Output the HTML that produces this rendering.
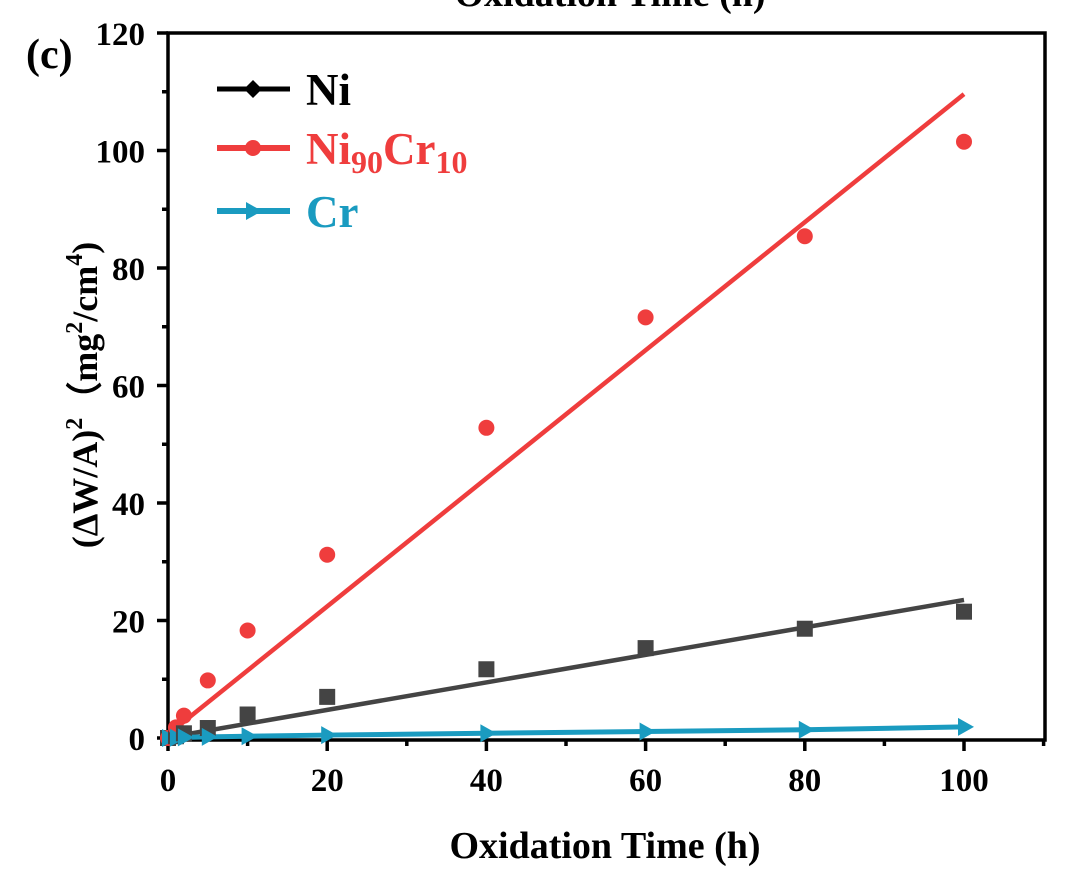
<!DOCTYPE html>
<html><head><meta charset="utf-8"><style>
body{margin:0;background:#fff}
svg{display:block;font-family:"Liberation Serif",serif;font-weight:bold}
</style></head><body>
<svg id="chart" width="1072" height="876" viewBox="0 0 1072 876">
<text x="610" y="6" font-size="38" text-anchor="middle" fill="#000">Oxidation Time (h)</text>
<text x="26" y="68" font-size="42">(c)</text>
<g id="axes"></g>
<g id="marks"></g>
<g>
<g>
<line x1="217" y1="89" x2="290" y2="89" stroke="#000" stroke-width="5"/>
<path d="M253,80 L262,89 L253,98 L244,89Z" fill="#000"/>
<text x="306" y="105" font-size="45" fill="#000">Ni</text></g>
<g>
<line x1="217" y1="148" x2="290" y2="148" stroke="#ef3d3d" stroke-width="6"/>
<circle cx="253" cy="148" r="8" fill="#ef3d3d"/>
<text x="306" y="164" font-size="45" fill="#ef3d3d">Ni<tspan font-size="32" dy="9">90</tspan><tspan dy="-9">Cr</tspan><tspan font-size="32" dy="9">10</tspan></text></g>
<g>
<line x1="217" y1="211" x2="290" y2="211" stroke="#1a9bc0" stroke-width="6"/>
<path d="M246,202 L262,211 L246,220Z" fill="#1a9bc0"/>
<text x="306" y="227" font-size="45" fill="#1a9bc0">Cr</text></g>
</g>
<text x="605" y="858" font-size="38" text-anchor="middle">Oxidation Time (h)</text>
<text transform="translate(97,395) rotate(-90)" font-size="36" text-anchor="middle">(ΔW/A)<tspan font-size="24" dy="-15">2</tspan><tspan dy="15">（mg</tspan><tspan font-size="24" dy="-15">2</tspan><tspan dy="15">/cm</tspan><tspan font-size="24" dy="-15">4</tspan><tspan dy="15">)</tspan></text>
</svg>
<script>
const times=[0,1,2,5,10,20,40,60,80,100];
const niVals=[0,0.3,0.8,1.7,4.0,7.0,11.7,15.3,18.6,21.5];
const nicrVals=[0,1.8,3.8,9.8,18.3,31.2,52.8,71.6,85.4,101.5];
const crVals=[0,0.05,0.1,0.2,0.3,0.5,0.8,1.1,1.4,1.9];
const niFit=[0.1,0.234];
const nicrFit=[0.6,1.09];
const xTicks=[0,20,40,60,80,100];
const yTicks=[0,20,40,60,80,100,120];
const NS='http://www.w3.org/2000/svg';
const X=v=>168+v*7.96;
const Y=v=>738-v*5.875;
const axes=document.getElementById('axes'),marks=document.getElementById('marks');
function mk(tag,attrs,parent){const e=document.createElementNS(NS,tag);for(const k in attrs)e.setAttribute(k,attrs[k]);parent.appendChild(e);return e;}
const frame=mk('rect',{x:168,y:33,width:877,height:707,fill:'none',stroke:'#000','stroke-width':3.5},axes);


xTicks.forEach(t=>{
 mk('line',{x1:X(t),y1:740,x2:X(t),y2:751,stroke:'#000','stroke-width':3.5},axes);
 const tx=mk('text',{x:X(t),y:791,'font-size':33,'text-anchor':'middle'},axes);tx.textContent=t;
 
 
});
[10,30,50,70,90,110].forEach(t=>mk('line',{x1:X(t),y1:740,x2:X(t),y2:746,stroke:'#000','stroke-width':3.5},axes));
yTicks.forEach(t=>{
 mk('line',{x1:157,y1:Y(t),x2:168,y2:Y(t),stroke:'#000','stroke-width':3.5},axes);
 const tx=mk('text',{x:145,y:Y(t)+12,'font-size':33,'text-anchor':'end'},axes);tx.textContent=t;
 
 
});
[10,30,50,70,90,110].forEach(t=>mk('line',{x1:162,y1:Y(t),x2:168,y2:Y(t),stroke:'#000','stroke-width':3.5},axes));
const f1=mk('line',{x1:X(0.5),y1:Y(niFit[0]+niFit[1]*0.5),x2:X(100),y2:Y(niFit[0]+niFit[1]*100),stroke:'#444','stroke-width':4.5},marks);


const f2=mk('line',{x1:X(0.5),y1:Y(nicrFit[0]+nicrFit[1]*0.5),x2:X(100),y2:Y(nicrFit[0]+nicrFit[1]*100),stroke:'#ef3d3d','stroke-width':4.5},marks);


const cl=mk('polyline',{points:times.map((t,i)=>X(t)+','+Y(crVals[i])).join(' '),fill:'none',stroke:'#1a9bc0','stroke-width':5},marks);


times.forEach((t,i)=>{
 const s=mk('rect',{x:X(t)-8,y:Y(niVals[i])-8,width:16,height:16,fill:'#444'},marks);
 
 
 const c=mk('circle',{cx:X(t),cy:Y(nicrVals[i]),r:8,fill:'#ef3d3d'},marks);
 
 
 const x=X(t),y=Y(crVals[i]);
 const p=mk('path',{d:`M${x-6},${y-9} L${x+10},${y} L${x-6},${y+9}Z`,fill:'#1a9bc0'},marks);
 
 
});
</script>
</body></html>
